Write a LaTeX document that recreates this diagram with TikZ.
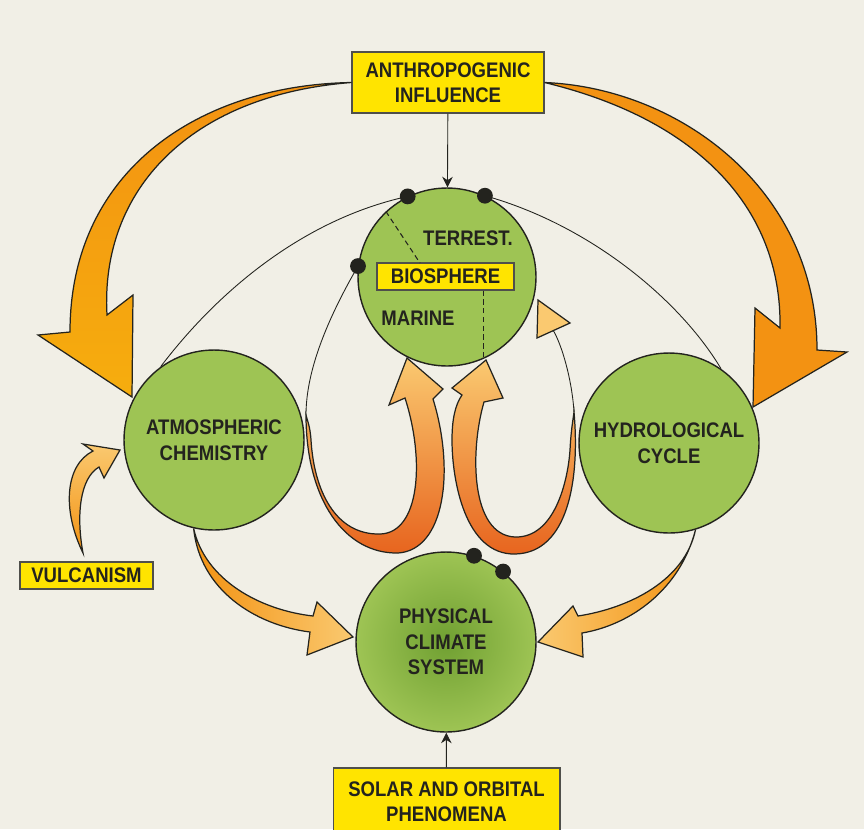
\documentclass[tikz,border=0pt]{standalone}
\usepackage{fontspec}
\setmainfont{Liberation Sans}[FakeStretch=0.88]
\usepackage{tikz}
\usetikzlibrary{positioning, arrows.meta}

\definecolor{paper}{RGB}{241,239,230}
\definecolor{leaf}{RGB}{158,196,84}
\definecolor{leafdark}{RGB}{112,160,50}
\definecolor{signal}{RGB}{255,228,0}
\definecolor{amber}{RGB}{243,146,18}
\definecolor{amberlight}{RGB}{250,201,112}
\definecolor{amberred}{RGB}{231,100,30}
\definecolor{ink}{RGB}{35,35,30}

\begin{document}
\begin{tikzpicture}[x=0.02cm, y=-0.02cm,
		sphere/.style={circle, draw=ink, line width=.8pt, fill=leaf, minimum size=3.6cm, inner sep=0pt},
		tag/.style={draw=ink!80, line width=.6pt, fill=signal, inner sep=0pt},
		caption/.style={font=\fontsize{12}{14.5}\selectfont\bfseries, text=ink, align=center},
		band/.style={draw=ink, line width=.7pt},
		link/.style={draw=ink, line width=.5pt},
		knot/.style={fill=ink}]
			\fill	[paper]	(0, 0) rectangle (864, 829);
			\useasboundingbox	(0, 0) rectangle (864, 829);

			\node	(AI)	at	(448, 82.5)		[tag, caption, minimum width=3.84cm, minimum height=1.22cm]	{ANTHROPOGENIC\\INFLUENCE};
			\node	(SO)	at	(446.5, 801.5)	[tag, caption, minimum width=4.54cm, minimum height=1.34cm]	{SOLAR AND ORBITAL\\PHENOMENA};
			\node	(VU)	at	(86.5, 575.5)	[tag, caption, minimum width=2.66cm, minimum height=.54cm]	{VULCANISM};

			\node	(Bio)	at	(447, 277)		[sphere, minimum size=3.56cm]	{};
			\node	(AC)	at	(214, 440)		[sphere, caption]				{ATMOSPHERIC\\CHEMISTRY};
			\node	(HC)	at	(669, 443)		[sphere, caption]				{HYDROLOGICAL\\CYCLE};
			\node	(PCS)	at	(446, 642)		[sphere, caption, inner color=leafdark, outer color=leaf]	{PHYSICAL\\CLIMATE\\SYSTEM};

			\node	(Ter)	at	(468, 238)		[caption]	{TERREST.};
			\node	(Mar)	at	(418, 318)		[caption]	{MARINE};
			\node	(BioTag)	at	(445.5, 276.5)	[tag, caption, minimum width=2.74cm, minimum height=.54cm]	{BIOSPHERE};
			\coordinate	(cut)	at	(420, 263);
			\draw	[dash pattern=on 3pt off 2pt, line width=.6pt, ink]	(Bio.133)	--	(cut);
			\draw	[dash pattern=on 3pt off 2pt, line width=.6pt, ink]	(BioTag.south -| Bio.294)	--	(Bio.294);

			\draw	[band, top color=amber, bottom color=amber!75!yellow]	(AI.west) .. controls (200, 85) and (70, 170) .. (70, 332) -- (38, 335) -- (132, 397) -- (133, 295) -- (107, 315) .. controls (100, 190) and (190, 95) .. (AI.west) -- cycle;
			\draw	[band, top color=amber, middle color=amberred, bottom color=amber]	(AI.east) .. controls (680, 88) and (817, 190) .. (817, 350) -- (847, 352) -- (753, 407) -- (755, 308) -- (780, 328) .. controls (782, 210) and (700, 120) .. (AI.east) -- cycle;

			\draw	[-{Stealth[length=6pt, width=6pt]}, link]	(AI)	--	(Bio);
			\draw	[-{Stealth[length=6pt, width=6pt]}, link]	(SO)	--	(PCS);
			\draw	[link]	(Bio.116) .. controls (300, 220) and (215, 295) .. (AC.126);
			\draw	[link]	(Bio.65) .. controls (590, 225) and (680, 300) .. (HC.55);

			\coordinate	(lp)	at	(306, 415);
			\coordinate	(rp)	at	(574, 412);
			\draw	[link]	(Bio.173) .. controls (328, 318) and (306, 370) .. (lp);
			\draw	[band, top color=amberlight, bottom color=amberred]	(lp) .. controls (306, 500) and (345, 554) .. (398, 553) .. controls (445, 550) and (455, 470) .. (433, 399) -- (443, 389) -- (407, 358) -- (389, 405) -- (405, 398) .. controls (425, 460) and (420, 533) .. (380, 534) .. controls (335, 535) and (314, 490) .. (311, 440) .. controls (310, 425) and (307, 420) .. (lp) -- cycle;
			\draw	[band, top color=amberlight, bottom color=amberred]	(rp) .. controls (580, 480) and (568, 553) .. (515, 554) .. controls (465, 555) and (452, 480) .. (452, 440) .. controls (452, 420) and (455, 405) .. (462, 395) -- (452, 388) -- (486, 360) -- (503, 398) -- (484, 402) .. controls (470, 450) and (470, 535) .. (515, 537) .. controls (555, 538) and (568, 480) .. (570, 450) .. controls (571, 430) and (573, 420) .. (rp) -- cycle;
			\draw	[link]	(rp) .. controls (572, 380) and (562, 345) .. (553, 330);
			\draw	[band, fill=amberlight]	(537, 338) -- (538, 300) -- (570, 323) -- cycle;

			\draw	[band, left color=amber, right color=amberlight]	(AC.257) .. controls (205, 580) and (260, 610) .. (313, 616) -- (317, 602) -- (353, 637) -- (307, 655) -- (310, 632) .. controls (255, 625) and (200, 590) .. (AC.257) -- cycle;
			\draw	[band, left color=amberlight, right color=amber]	(HC.287) .. controls (685, 580) and (630, 608) .. (578, 616) -- (573, 606) -- (538, 642) -- (583, 657) -- (582, 633) .. controls (630, 625) and (680, 590) .. (HC.287) -- cycle;
			\draw	[band, top color=amberlight, bottom color=amber]	(83, 553) .. controls (62, 510) and (65, 465) .. (93, 451) -- (83, 444) -- (120, 450) -- (104, 478) -- (99, 467) .. controls (80, 478) and (76, 515) .. (83, 553) -- cycle;

			\fill	[knot]	(Bio.116)	circle (4.5pt);
			\fill	[knot]	(Bio.65)	circle (4.5pt);
			\fill	[knot]	(Bio.173)	circle (4.5pt);
			\fill	[knot]	(PCS.72)	circle (4.5pt);
			\fill	[knot]	(PCS.51)	circle (4.5pt);
		\end{tikzpicture}
\end{document}
